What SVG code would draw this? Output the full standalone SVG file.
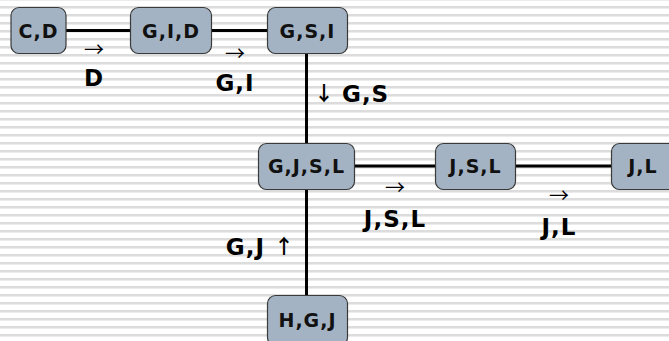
<svg xmlns="http://www.w3.org/2000/svg" width="669" height="341" viewBox="0 0 669 341">
  <defs>
    <pattern id="stripes" width="669" height="8" patternUnits="userSpaceOnUse" y="1">
      <rect width="669" height="8" fill="#ffffff"/>
      <rect y="5" width="669" height="2" fill="#dcdcdc"/>
      <rect y="7" width="669" height="1" fill="#ececec"/>
    </pattern>
  </defs>
  <style>
    .node rect { fill: #a3b3c3; stroke: #3a3a3a; stroke-width: 1.2; }
    .node text { font-family: "DejaVu Sans", Verdana, sans-serif; font-weight: bold; font-size: 19px; letter-spacing: 1px; fill: #111; text-anchor: middle; }
    .edge { stroke: #000; stroke-width: 3; fill: none; }
    .lbl { font-family: "DejaVu Sans", Verdana, sans-serif; font-weight: bold; font-size: 23px; letter-spacing: 1px; fill: #000; }
    .arr { font-family: "Noto Sans CJK SC", sans-serif; font-size: 20px; fill: #000; text-anchor: middle; }
    .varr { font-family: "Noto Sans CJK SC", sans-serif; font-size: 20px; font-weight: bold; fill: #000; text-anchor: middle; }
  </style>

  <rect width="669" height="341" fill="url(#stripes)"/>

  <!-- connectors -->
  <g id="connectors">
    <line class="edge" x1="66" y1="30.5" x2="130" y2="30.5"/>
    <line class="edge" x1="211" y1="30.5" x2="267" y2="30.5"/>
    <line class="edge" x1="306.5" y1="53" x2="306.5" y2="295"/>
    <line class="edge" x1="354" y1="166" x2="435" y2="166"/>
    <line class="edge" x1="515" y1="166" x2="611" y2="166"/>

    <text class="arr" x="94" y="57">→</text>
    <text class="lbl" x="94" y="86" text-anchor="middle">D</text>

    <text class="arr" x="235" y="61">→</text>
    <text class="lbl" x="235" y="91" text-anchor="middle">G,I</text>

    <text class="varr" x="324" y="101">↓</text>
    <text class="lbl" x="342" y="102">G,S</text>

    <text class="arr" x="395" y="195">→</text>
    <text class="lbl" x="395" y="227" text-anchor="middle">J,S,L</text>

    <text class="arr" x="559" y="203">→</text>
    <text class="lbl" x="559" y="235" text-anchor="middle">J,L</text>

    <text class="lbl" x="265" y="255" text-anchor="end">G,J</text>
    <text class="varr" x="284" y="254">↑</text>
  </g>

  <g id="n-cd" class="node">
    <rect x="11" y="7.5" width="55" height="46" rx="8"/>
    <text x="38.5" y="38">C,D</text>
  </g>
  <g id="n-gid" class="node">
    <rect x="130.5" y="7.5" width="81" height="46" rx="8"/>
    <text x="171" y="38">G,I,D</text>
  </g>
  <g id="n-gsi" class="node">
    <rect x="267.5" y="7.5" width="80" height="46" rx="8"/>
    <text x="307.5" y="38">G,S,I</text>
  </g>
  <g id="n-gjsl" class="node">
    <rect x="258.5" y="143.5" width="96" height="46" rx="8"/>
    <text x="306.5" y="173">G,J,S,L</text>
  </g>
  <g id="n-jsl" class="node">
    <rect x="435.5" y="143.5" width="80" height="46" rx="8"/>
    <text x="475.5" y="173">J,S,L</text>
  </g>
  <g id="n-jl" class="node">
    <rect x="611.5" y="143.5" width="70" height="46" rx="8"/>
    <text x="643" y="173">J,L</text>
  </g>
  <g id="n-hgj" class="node">
    <rect x="267.5" y="295.5" width="80" height="50" rx="8"/>
    <text x="307.5" y="327">H,G,J</text>
  </g>
</svg>
